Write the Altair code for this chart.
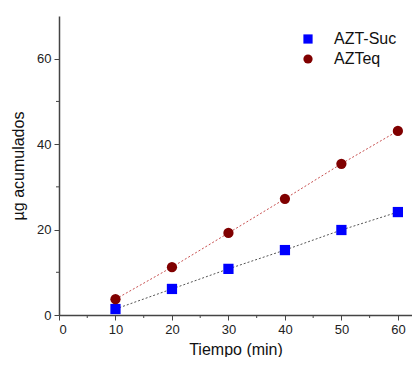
import altair as alt
import pandas as pd

tiempo = [10, 20, 30, 40, 50, 60]
azt_suc = [1.4, 6.1, 10.8, 15.2, 19.9, 24.1]
azteq = [3.7, 11.2, 19.2, 27.2, 35.4, 43.1]
series_names = ["AZT-Suc", "AZTeq"]
x_major = [0, 10, 20, 30, 40, 50, 60]
x_minor = [5, 15, 25, 35, 45, 55]
y_major = [0, 20, 40, 60]
y_minor = [10, 30, 50]

df = pd.DataFrame({
    "t": tiempo * 2,
    "v": azt_suc + azteq,
    "s": [series_names[0]] * 6 + [series_names[1]] * 6,
})

W, H = 353, 299
FONT = "Liberation Sans"
xs = alt.Scale(domain=[0, 62.5], nice=False, zero=False)
ys = alt.Scale(domain=[0, 70], nice=False)

xaxis = alt.Axis(values=x_major, title="Tiempo (min)", grid=False,
                 tickSize=5, labelFontSize=13, titleFontSize=16,
                 labelFont=FONT, titleFont=FONT, titleFontWeight="normal",
                 domainColor="#444", tickColor="#444", domainWidth=1.5,
                 labelColor="#222", titleColor="#111", labelPadding=3,
                 titlePadding=5)
yaxis = alt.Axis(values=y_major, title="µg acumulados", grid=False,
                 tickSize=5, labelFontSize=13, titleFontSize=16,
                 labelFont=FONT, titleFont=FONT, titleFontWeight="normal",
                 domainColor="#444", tickColor="#444", domainWidth=1.5,
                 labelColor="#222", titleColor="#111", labelPadding=3,
                 titlePadding=10)

line_suc = alt.Chart(df).transform_filter(alt.datum.s == series_names[0]).mark_line(
    strokeDash=[2, 2], strokeWidth=1, color="#555555").encode(
    x=alt.X("t:Q", scale=xs, axis=xaxis),
    y=alt.Y("v:Q", scale=ys, axis=yaxis),
)
line_eq = alt.Chart(df).transform_filter(alt.datum.s == series_names[1]).mark_line(
    strokeDash=[2, 2], strokeWidth=1, color="#c85050").encode(
    x=alt.X("t:Q", scale=xs),
    y=alt.Y("v:Q", scale=ys),
)

leg = alt.Legend(title=None, orient="none", legendX=241, legendY=15,
                 labelFontSize=16, labelFont=FONT, labelColor="#111",
                 symbolSize=85, labelOffset=18, rowPadding=4)

points = alt.Chart(df).mark_point(filled=True, opacity=1, size=105).encode(
    x=alt.X("t:Q", scale=xs),
    y=alt.Y("v:Q", scale=ys),
    color=alt.Color("s:N", scale=alt.Scale(domain=series_names, range=["#0000ff", "#800000"]), legend=leg),
    shape=alt.Shape("s:N", scale=alt.Scale(domain=series_names, range=["square", "circle"]), legend=leg),
)

xminor = alt.Chart(pd.DataFrame({"m": x_minor})).mark_rule(color="#444", strokeWidth=1).encode(
    x=alt.X("m:Q", scale=xs), y=alt.value(H), y2=alt.value(H + 3))
yminor = alt.Chart(pd.DataFrame({"m": y_minor})).mark_rule(color="#444", strokeWidth=1).encode(
    y=alt.Y("m:Q", scale=ys), x=alt.value(0), x2=alt.value(-3))

chart = alt.layer(line_suc, line_eq, points, xminor, yminor).properties(
    width=W, height=H,
    autosize=alt.AutoSizeParams(type="none"),
    padding={"left": 51, "top": 8, "right": 0, "bottom": 42},
).configure_view(stroke=None)

chart.save("out.html", embed_options={"renderer": "svg", "actions": False})
